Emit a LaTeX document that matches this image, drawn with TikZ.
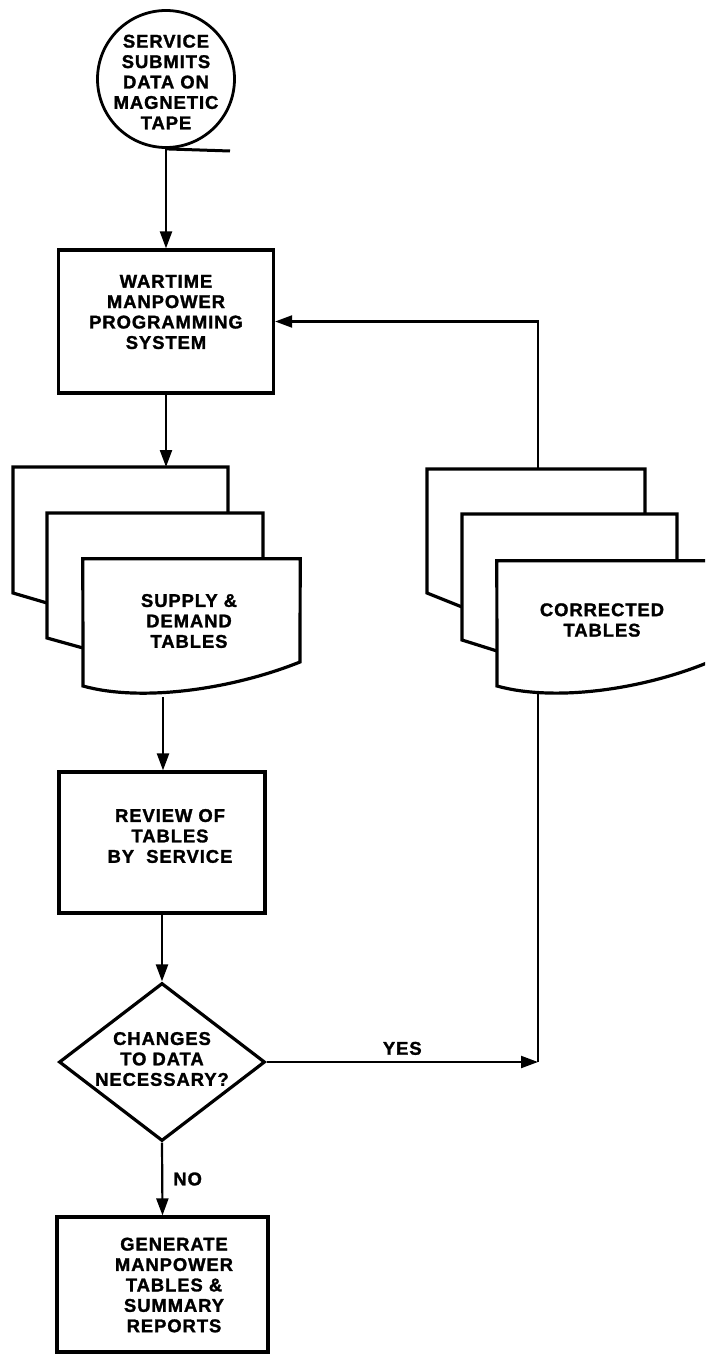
\documentclass[tikz,border=0pt]{standalone}
\usepackage{fontspec}
\newfontfamily\lblfont{Liberation Sans Bold}[LetterSpace=5, FakeBold=1.5]
\usetikzlibrary{arrows.meta,shapes.geometric}

\tikzset{
  x=1bp, y=-1bp,
  heavy/.style={line width=3.2bp, line join=miter, line cap=butt},
  flow/.style={line width=2.2bp, -{Triangle[length=17bp,width=12bp]}},
  plain/.style={line width=2.2bp},
  procbox/.style={draw, heavy, rectangle, inner sep=0pt},
  lbl/.style={font=\lblfont\fontsize{18.5}{20.5}\selectfont, align=center, inner sep=0pt},
}

\begin{document}
\begin{tikzpicture}
\useasboundingbox (0,0) rectangle (705,1359);

% --- source: data on magnetic tape ---
\node[circle, draw, line width=2.8bp, minimum size=137bp, inner sep=0pt] (src) at (166,79) {};
\node[lbl] (srctext) at (166,82) {SERVICE\\SUBMITS\\DATA ON\\MAGNETIC\\TAPE};
\coordinate (tapeend) at (230,151);
\draw[line width=3bp] (src.south) -- (tapeend);

% --- programming system ---
\node[procbox, minimum width=215bp, minimum height=143bp] (wmps) at (166,321.5) {};
\node[lbl] (wmpstext) at (166,312) {WARTIME\\MANPOWER\\PROGRAMMING\\SYSTEM};

% --- supply & demand tables (stack of three documents) ---
\draw[heavy] (47,603) -- (13,593) -- (13,467) -- (228,467) -- (228,513);
\draw[heavy] (83,648) -- (47,638) -- (47,513) -- (263,513) -- (263,559);
\node[minimum width=217bp, minimum height=127bp, inner sep=0pt] (supply) at (191.5,622.5) {};
\draw[heavy] (supply.north west) -- (supply.north east) -- (300,662)
  .. controls (230,690) and (140,702) .. (83,686) -- cycle;
\node[lbl] (supplytext) at (189,621) {SUPPLY \&\\DEMAND\\TABLES};
\coordinate (supplyin) at (166,467);
\coordinate (supplyout) at (163,697);

% --- corrected tables (stack of three documents, cut at the page edge) ---
\begin{scope}
  \clip (0,0) rectangle (705,1359);
  \draw[heavy] (462,607) -- (427,593) -- (427,469) -- (645,469) -- (645,514);
  \draw[heavy] (497,651) -- (462,640) -- (462,514) -- (677,514) -- (677,561);
  \node[minimum width=217bp, minimum height=125bp, inner sep=0pt] (corr) at (605.5,623.5) {};
  \draw[heavy] (corr.north west) -- (corr.north east) -- (714,660)
    .. controls (644,690) and (554,702) .. (497,686) -- cycle;
\end{scope}
\node[lbl] (corrtext) at (602,620) {CORRECTED\\TABLES};
\coordinate (corrtop) at (538,469);
\coordinate (corrout) at (538,694);

% --- review ---
\node[procbox, minimum width=206bp, minimum height=141bp] (review) at (162,842.5) {};
\node[lbl] (reviewtext) at (170,836) {REVIEW OF\\TABLES\\BY\ \ SERVICE};

% --- decision ---
\node[diamond, draw, heavy, minimum width=206bp, minimum height=158bp, inner sep=0pt] (dec) at (162,1062) {};
\node[lbl] (dectext) at (162,1059) {CHANGES\\TO DATA\\NECESSARY?};
\coordinate (yesjoin) at (dec.east -| corrout);

% --- output ---
\node[procbox, minimum width=211bp, minimum height=135bp] (gen) at (162.5,1284.5) {};
\node[lbl] (gentext) at (174,1285) {GENERATE\\MANPOWER\\TABLES \&\\SUMMARY\\REPORTS};

% --- connectors ---
\draw[flow] (src.south) -- (wmps.north);
\draw[flow] (wmps.south) -- (supplyin);
\draw[flow] (supplyout) -- (supplyout |- review.north);
\draw[flow] (review.south) -- (dec.north);
\draw[flow] (dec.south) -- node[lbl, right=10bp] (nolbl) {NO} (gen.north);
\draw[flow] (dec.east) -- node[lbl, above=6bp] (yeslbl) {YES} (yesjoin);
\draw[plain] (corrout) -- (yesjoin);
\draw[flow] (corrtop) |- (wmps.east);
\end{tikzpicture}
\end{document}
